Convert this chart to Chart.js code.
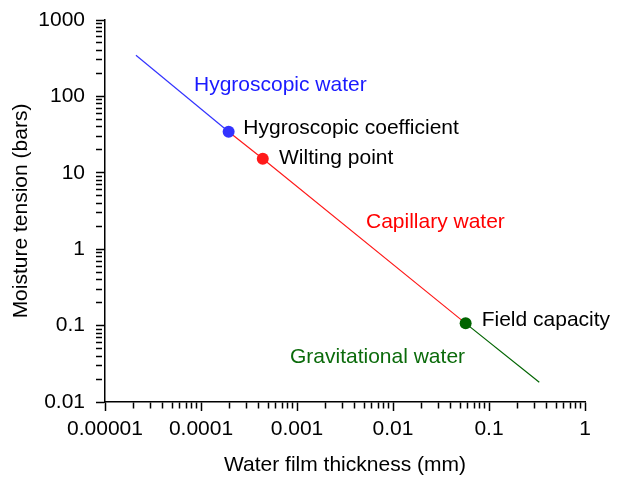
<!DOCTYPE html>
<html>
<head>
<meta charset="utf-8">
<script src="https://cdn.jsdelivr.net/npm/chart.js@4"></script>
<style>
  html, body { margin: 0; padding: 0; background: #fff; }
  canvas { display: block; }
</style>
</head>
<body>
<canvas id="c" width="620" height="479"></canvas>
<script>
// ---- data ----
const hygroscopicLineX = [0.000021, 0.000194];
const hygroscopicLineY = [345, 34.5];
const capillaryLineX = [0.000194, 0.00044, 0.0571];
const capillaryLineY = [34.5, 15.3, 0.107];
const gravitationalLineX = [0.0571, 0.334];
const gravitationalLineY = [0.107, 0.0181];

const pointNames = ["Hygroscopic coefficient", "Wilting point", "Field capacity"];
const pointX = [0.000194, 0.00044, 0.0571];
const pointY = [34.5, 15.3, 0.107];

const xMajorTicks = [0.00001, 0.0001, 0.001, 0.01, 0.1, 1];
const xTickLabels = ["0.00001", "0.0001", "0.001", "0.01", "0.1", "1"];
const yMajorTicks = [0.01, 0.1, 1, 10, 100, 1000];
const yTickLabels = ["0.01", "0.1", "1", "10", "100", "1000"];

const labelTexts = ["Hygroscopic water", "Hygroscopic coefficient", "Wilting point", "Capillary water", "Field capacity", "Gravitational water"];
const labelX = [0.0000845, 0.000276, 0.000649, 0.00523, 0.0839, 0.000845];
const labelY = [141, 38.2, 15.6, 2.27, 0.1167, 0.0388];

// ---- styles ----
const BLUE = "#3333ff", RED = "#ff1a1a", GREEN = "#006400";
const labelColors = ["#1a1aff", "#000000", "#000000", "#ff0000", "#000000", "#0b6b0b"];
const pointColors = [BLUE, RED, GREEN];
const FONT = '"Liberation Sans", Arial, Helvetica, sans-serif';
const FS = 21;

function zip(xs, ys) { return xs.map((x, i) => ({ x: x, y: ys[i] })); }
function allTicks(majors) {
  const out = [];
  majors.forEach((m, i) => {
    out.push(m);
    if (i < majors.length - 1) for (let k = 2; k <= 9; k++) out.push(+(m * k).toPrecision(6));
  });
  return out;
}
function isMajor(v, majors) { return majors.some(m => Math.abs(v / m - 1) < 1e-6); }
function labelFor(v, majors, labels) {
  const i = majors.findIndex(m => Math.abs(v / m - 1) < 1e-6);
  return i >= 0 ? labels[i] : "";
}

const textPlugin = {
  id: "textLabels",
  afterDatasetsDraw(chart) {
    const { ctx, scales } = chart;
    ctx.save();
    ctx.font = FS + "px " + FONT;
    ctx.textAlign = "left";
    ctx.textBaseline = "middle";
    labelTexts.forEach((t, i) => {
      ctx.fillStyle = labelColors[i];
      ctx.fillText(t, scales.x.getPixelForValue(labelX[i]), scales.y.getPixelForValue(labelY[i]));
    });
    ctx.restore();
  }
};

function axisOpts(majors, labels, isX) {
  return {
    type: "logarithmic",
    min: majors[0],
    max: majors[majors.length - 1],
    afterBuildTicks(scale) {
      scale.ticks = allTicks(majors).map(v => ({ value: v, major: false }));
    },
    afterFit(scale) {
      if (isX) {
        scale.height = 77;
      } else {
        scale.width = 105;
        scale.paddingTop = 12;
        scale.paddingBottom = 12;
      }
    },
    border: { display: true, color: "#000", width: 1.5 },
    grid: {
      display: true,
      drawOnChartArea: false,
      drawTicks: true,
      tickLength: 9,
      tickColor: "#000",
      tickWidth: 1.5,
      tickBorderDash: (c) => (c.tick && isMajor(c.tick.value, majors)) ? [] : [6, 60]
    },
    ticks: {
      autoSkip: false,
      maxRotation: 0,
      minRotation: 0,
      padding: isX ? 6 : 11,
      color: "#000",
      font: { family: FONT, size: FS },
      callback: (v) => labelFor(v, majors, labels)
    },
    title: {
      display: true,
      text: isX ? "Water film thickness (mm)" : "Moisture tension (bars)",
      color: "#000",
      font: { family: FONT, size: FS },
      padding: isX ? { top: 0, bottom: 1.5 } : { top: 9, bottom: 0 }
    }
  };
}

new Chart(document.getElementById("c"), {
  type: "scatter",
  data: {
    datasets: [
      { data: zip(hygroscopicLineX, hygroscopicLineY), showLine: true, borderColor: BLUE, borderWidth: 1.2, pointRadius: 0, order: 3 },
      { data: zip(capillaryLineX, capillaryLineY), showLine: true, borderColor: RED, borderWidth: 1.2, pointRadius: 0, order: 3 },
      { data: zip(gravitationalLineX, gravitationalLineY), showLine: true, borderColor: GREEN, borderWidth: 1.2, pointRadius: 0, order: 3 },
      { data: zip(pointX, pointY), showLine: false, pointRadius: 6, pointHoverRadius: 6,
        pointBackgroundColor: pointColors, pointBorderColor: pointColors, pointBorderWidth: 0, order: 1 }
    ]
  },
  options: {
    responsive: false,
    animation: false,
    events: [],
    layout: { padding: { top: 20, right: 35, left: 0, bottom: 0 } },
    plugins: { legend: { display: false }, tooltip: { enabled: false } },
    scales: {
      x: axisOpts(xMajorTicks, xTickLabels, true),
      y: axisOpts(yMajorTicks, yTickLabels, false)
    }
  },
  plugins: [textPlugin]
});
</script>
</body>
</html>
